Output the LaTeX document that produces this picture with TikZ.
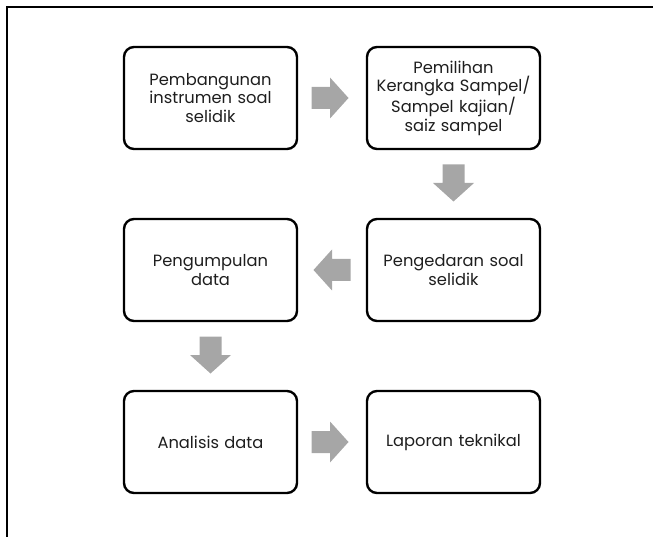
\documentclass[tikz,border=0pt]{standalone}
\usepackage{fontspec}
\setmainfont{Poppins}
\usetikzlibrary{calc}
\definecolor{arrowgray}{HTML}{A6A6A6}
\definecolor{txt}{HTML}{1E1E1E}
\tikzset{
  stepbox/.style={draw=black, line width=2.4pt, rounded corners=10pt, fill=white,
    minimum width=173pt, minimum height=102pt, inner sep=0pt, align=center,
    text=txt, font=\fontsize{16.3pt}{18.6pt}\selectfont, text width=170pt},
  blockarr/.pic={\fill[arrowgray] (-18.5,-11) -- (0,-11) -- (0,-20.5) -- (18.5,0) -- (0,20.5) -- (0,11) -- (-18.5,11) -- cycle;}
}
\begin{document}
\begin{tikzpicture}[x=1pt,y=-1pt]
\useasboundingbox (0,0) rectangle (653,537);
\coordinate (fb) at (7,540);
\coordinate (fc) at (7,7);
\coordinate (fr) at (656,7);
\draw[line width=2pt] (fb) -- (fc) -- (fr);

\node[stepbox] (a) at (210.5,98) {Pembangunan\\instrumen soal\\selidik};
\node[stepbox] (b) at (453.5,98) {Pemilihan\\Kerangka Sampel/\\Sampel kajian/\\saiz sampel};
\node[stepbox] (c) at (453.5,270) {Pengedaran soal\\selidik};
\node[stepbox] (d) at (210.5,270) {Pengumpulan\\data};
\node[stepbox] (e) at (210.5,442) {Analisis data};
\node[stepbox] (f) at (453.5,442) {Laporan teknikal};

\coordinate (ab) at ($(a.east)!0.5!(b.west)+(-2,0)$);
\coordinate (bc) at ($(b.south)!0.5!(c.north)+(0,-1)$);
\coordinate (cd) at ($(c.west)!0.5!(d.east)$);
\coordinate (de) at ($(d.south)!0.5!(e.north)+(0,-1)$);
\coordinate (ef) at ($(e.east)!0.5!(f.west)+(-2,0)$);
\pic at (ab) {blockarr};
\pic[rotate=-90] at (bc) {blockarr};
\pic[rotate=180] at (cd) {blockarr};
\pic[rotate=-90] at (de) {blockarr};
\pic at (ef) {blockarr};
\end{tikzpicture}
\end{document}
